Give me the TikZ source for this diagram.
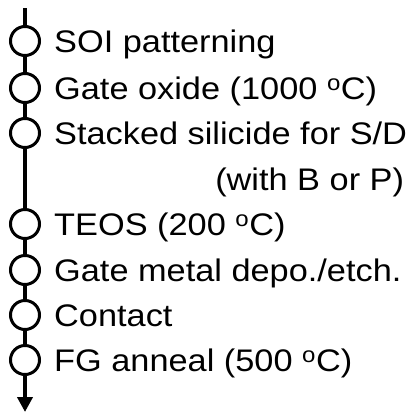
\documentclass[tikz,border=0pt]{standalone}
\usepackage{fontspec}
\setmainfont{Liberation Sans}[FakeStretch=1.1]
\usetikzlibrary{positioning, arrows.meta}

\tikzset{
  stepdot/.style={circle, draw, line width=3pt, fill=white, minimum size=29pt, inner sep=0pt},
  steplabel/.style={inner sep=0pt, text height=22.4pt, text depth=0pt, font=\fontsize{31.2}{40}\selectfont},
  flowline/.style={line width=4pt},
}

\begin{document}
\begin{tikzpicture}[x=1pt, y=1pt]
\useasboundingbox (0,0) rectangle (417,-413);

% Process line ends
\coordinate (top) at (25,-8);
\coordinate (bottom) at (25,-412);

% Steps
\node[stepdot] (s1) at (25,-41) {};
\node[stepdot] (s2) at (25,-88) {};
\node[stepdot] (s3) at (25,-133) {};
\node[stepdot] (s4) at (25,-224) {};
\node[stepdot] (s5) at (25,-270) {};
\node[stepdot] (s6) at (25,-315) {};
\node[stepdot] (s7) at (25,-360) {};

% Connectors
\draw[flowline] (top) -- (s1);
\draw[flowline] (s1) -- (s2);
\draw[flowline] (s2) -- (s3);
\draw[flowline] (s3) -- (s4);
\draw[flowline] (s4) -- (s5);
\draw[flowline] (s5) -- (s6);
\draw[flowline] (s6) -- (s7);
\draw[flowline, -{Triangle[length=15pt, width=15pt]}] (s7) -- (bottom);

% Labels
\node[steplabel, right=13pt of s1] (l1) {SOI patterning};
\node[steplabel, right=13pt of s2] (l2) {Gate oxide (1000 \textsuperscript{o}C)};
\node[steplabel, right=13pt of s3] (l3) {Stacked silicide for S/D};
\node[steplabel, below left=23.2pt and 3pt of l3.south east] (l3b) {(with B or P)};
\node[steplabel, right=13pt of s4] (l4) {TEOS (200 \textsuperscript{o}C)};
\node[steplabel, right=13pt of s5] (l5) {Gate metal depo./etch.};
\node[steplabel, right=13pt of s6] (l6) {Contact};
\node[steplabel, right=13pt of s7] (l7) {FG anneal (500 \textsuperscript{o}C)};

\end{tikzpicture}
\end{document}
